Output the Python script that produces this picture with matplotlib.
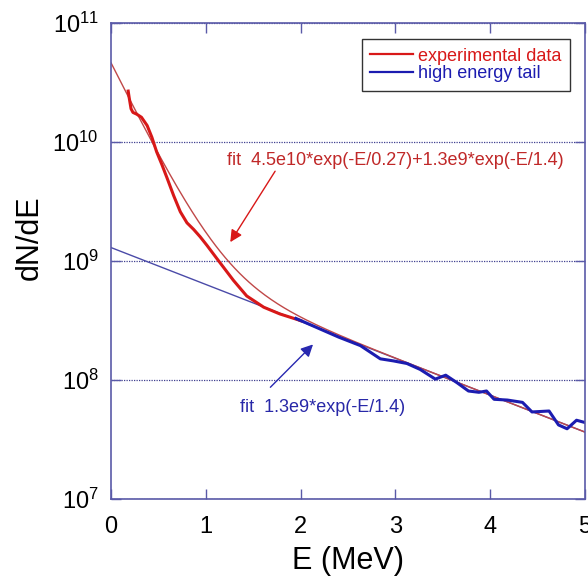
import numpy as np
import matplotlib
matplotlib.use('Agg')
import matplotlib.pyplot as plt

plt.rcParams['font.family'] = ['Liberation Sans', 'DejaVu Sans']
plt.rcParams['mathtext.default'] = 'regular'

# experimental spectrum (red)
exp_E = [0.18, 0.19, 0.21, 0.23, 0.27, 0.32, 0.38, 0.43, 0.48, 0.535, 0.59, 0.66,
         0.73, 0.80, 0.87, 0.94, 1.01, 1.12, 1.29, 1.43, 1.61, 1.78, 1.96, 2.0]
exp_N = [2.69e10, 2.38e10, 1.91e10, 1.78e10, 1.72e10, 1.62e10, 1.38e10, 1.10e10,
         8.3e9, 6.5e9, 5.0e9, 3.55e9, 2.6e9, 2.1e9, 1.85e9, 1.6e9, 1.36e9, 1.04e9,
         6.9e8, 5.1e8, 4.1e8, 3.6e8, 3.24e8, 3.16e8]

# high energy tail (blue)
tail_E = [1.95, 2.2, 2.4, 2.63, 2.84, 2.98, 3.12, 3.26, 3.42, 3.53, 3.65, 3.77,
          3.88, 3.96, 4.04, 4.18, 4.34, 4.44, 4.62, 4.72, 4.81, 4.91, 5.0]
tail_N = [3.3e8, 2.7e8, 2.3e8, 1.95e8, 1.51e8, 1.45e8, 1.38e8, 1.23e8, 1.02e8,
          1.10e8, 9.5e7, 8.1e7, 7.9e7, 8.1e7, 6.9e7, 6.8e7, 6.5e7, 5.4e7, 5.5e7,
          4.2e7, 3.9e7, 4.6e7, 4.4e7]

# fit parameters given in the annotations
A1, T1 = 4.5e10, 0.27
A2, T2 = 1.3e9, 1.4

E = np.linspace(0, 5, 300)
fit_total = A1 * np.exp(-E / T1) + A2 * np.exp(-E / T2)
fit_tail = A2 * np.exp(-E / T2)

frame = '#5a5aa8'

fig = plt.figure(figsize=(5.88, 5.81), dpi=100)
ax = fig.add_axes([0.189, 0.141, 0.806, 0.819])

ax.plot(E, fit_tail, color='#4a4aa8', lw=1)
ax.plot(E, fit_total, color='#c04848', lw=1)
ax.plot(exp_E, exp_N, color='#d81818', lw=2.2, label='experimental data')
ax.plot(tail_E, tail_N, color='#1c1cb0', lw=2.2, label='high energy tail')

ax.set_yscale('log')
ax.set_xlim(0, 5)
ax.set_ylim(1e7, 1e11)
ax.set_xticks([0, 1, 2, 3, 4, 5])
ax.set_yticks([1e7, 1e8, 1e9, 1e10, 1e11])
ax.yaxis.set_minor_locator(matplotlib.ticker.NullLocator())
ax.tick_params(direction='in', length=7, width=1, color=frame, labelsize=17,
               top=True, right=True)
ax.tick_params(axis='x', pad=12)
ax.tick_params(axis='y', pad=9)
for s in ax.spines.values():
    s.set_color(frame)
    s.set_linewidth(1.2)
ax.yaxis.grid(True, which='major', linestyle=(0, (1, 1)), color='#404090', lw=0.9)

ax.set_xlabel('E (MeV)', fontsize=22, labelpad=6)
ax.set_ylabel('dN/dE', fontsize=22)
ax.yaxis.set_label_coords(-0.14, 0.55)

leg = ax.legend(loc='upper right', bbox_to_anchor=(0.968, 0.966), borderaxespad=0,
                fancybox=False, edgecolor='black', fontsize=13, handlelength=2.4,
                handletextpad=0.3, labelspacing=0.05, borderpad=0.45,
                labelcolor='linecolor')
leg.get_frame().set_linewidth(1)
for h in leg.get_lines():
    h.set_linewidth(1.6)

ax.text(1.22, 10 ** 9.85, 'fit  4.5e10*exp(-E/0.27)+1.3e9*exp(-E/1.4)',
        color='#c02828', fontsize=13, va='center')
ax.annotate('', xy=(1.257, 10 ** 9.16), xytext=(1.73, 10 ** 9.756),
            arrowprops=dict(arrowstyle='-|>', color='#d81818', lw=1,
                            mutation_scale=18, shrinkA=0, shrinkB=0))
ax.text(1.36, 10 ** 7.77, 'fit  1.3e9*exp(-E/1.4)', color='#2828a8',
        fontsize=13, va='center')
ax.annotate('', xy=(2.13, 10 ** 8.30), xytext=(1.68, 10 ** 7.94),
            arrowprops=dict(arrowstyle='-|>', color='#2828b0', lw=1,
                            mutation_scale=18, shrinkA=0, shrinkB=0))

fig.savefig('out.png', dpi=100)
